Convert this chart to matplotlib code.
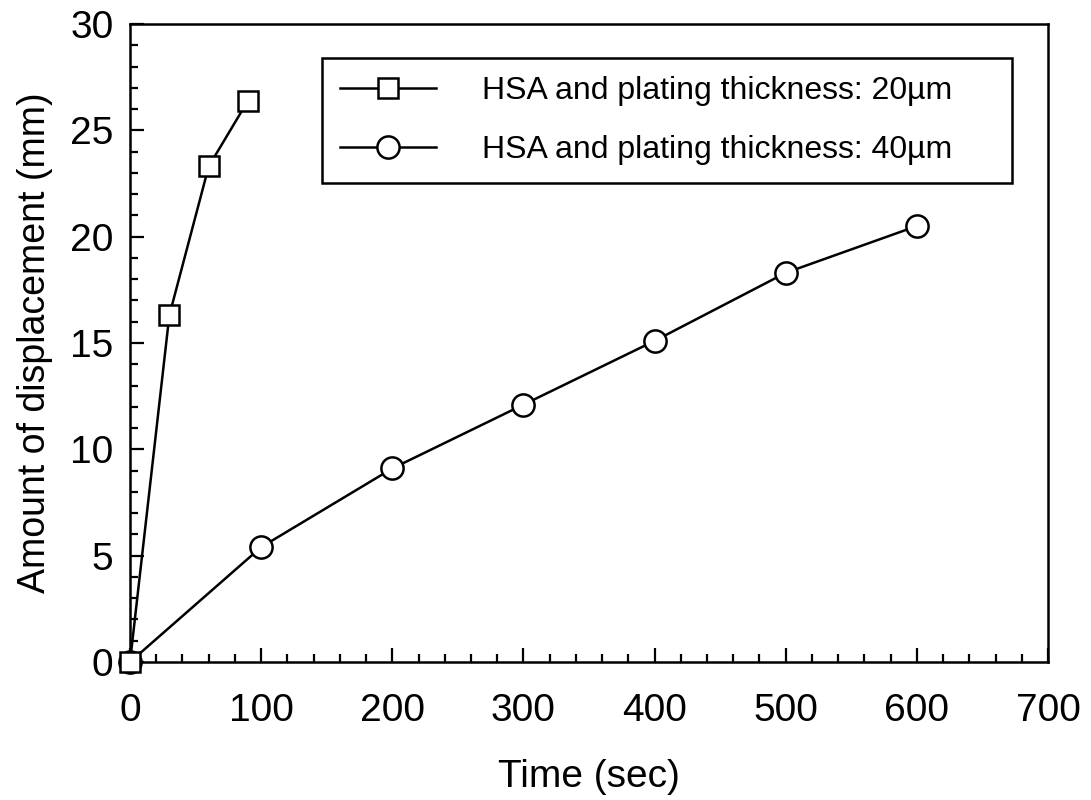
import matplotlib.pyplot as plt
from matplotlib.ticker import MultipleLocator

plt.rcParams['font.family'] = ['Liberation Sans', 'DejaVu Sans']

t_20 = [0, 30, 60, 90]
d_20 = [0, 16.3, 23.3, 26.4]
t_40 = [0, 100, 200, 300, 400, 500, 600]
d_40 = [0, 5.4, 9.1, 12.1, 15.1, 18.3, 20.5]
labels = ["HSA and plating thickness: 20\u00b5m", "HSA and plating thickness: 40\u00b5m"]

fig = plt.figure(figsize=(10.91, 8.0), dpi=100)
ax = fig.add_axes([130/1091, 1 - 662/800, (1048-130)/1091, (662-24)/800])

# square series on top so the origin shows a square, as in the original
ax.plot(t_20, d_20, color='black', lw=1.8, marker='s', ms=15, mfc='white', mec='black', mew=1.8,
        label=labels[0], clip_on=False, zorder=4)
ax.plot(t_40, d_40, color='black', lw=1.8, marker='o', ms=16, mfc='white', mec='black', mew=1.8,
        label=labels[1], clip_on=False, zorder=3)

ax.set_xlim(0, 700)
ax.set_ylim(0, 30)
ax.xaxis.set_major_locator(MultipleLocator(100))
ax.xaxis.set_minor_locator(MultipleLocator(20))
ax.yaxis.set_major_locator(MultipleLocator(5))
ax.yaxis.set_minor_locator(MultipleLocator(1))
ax.tick_params(which='both', direction='in', top=False, right=False, labelsize=28, width=1.6)
ax.tick_params(which='major', length=10)
ax.tick_params(axis='x', which='major', pad=22)
ax.tick_params(axis='y', which='major', pad=12)
ax.tick_params(which='minor', length=6)
for s in ax.spines.values():
    s.set_linewidth(1.8)

ax.set_xlabel("Time (sec)", fontsize=28, labelpad=22)
ax.set_ylabel("Amount of displacement (mm)", fontsize=27, labelpad=12)

# legend box spans a fixed part of the axes, entries left aligned inside it
leg = ax.legend(loc='upper left', bbox_to_anchor=(0.209, 0.0, 0.752, 0.947), mode='expand',
                fontsize=23, frameon=True, fancybox=False, edgecolor='black', framealpha=1,
                handlelength=3.0, borderpad=0.57, labelspacing=0.9, handletextpad=1.44,
                borderaxespad=0)
leg.get_frame().set_linewidth(1.8)

fig.savefig("out.png", dpi=100)
